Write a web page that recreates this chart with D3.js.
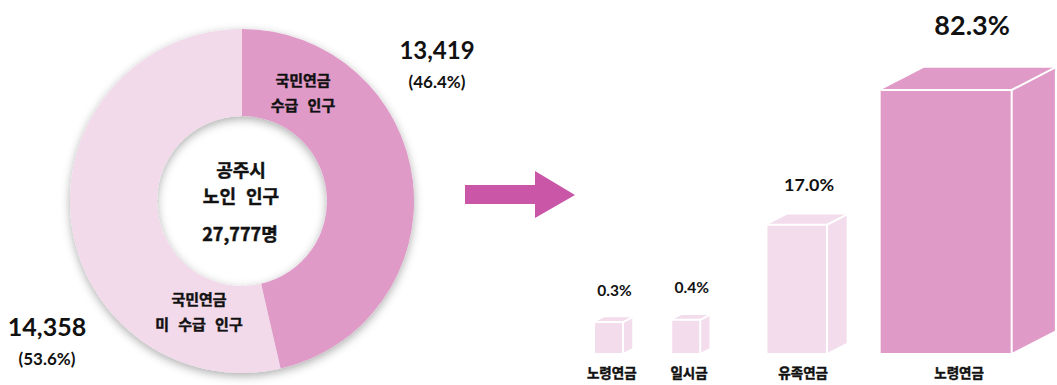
<!DOCTYPE html>
<html lang="ko">
<head>
<meta charset="utf-8">
<script src="https://cdn.jsdelivr.net/npm/d3@7/dist/d3.min.js"></script>
<style>
  html, body { margin: 0; padding: 0; background: #ffffff; }
  svg { display: block; }
  .kr { font-family: "Noto Sans CJK KR", "Noto Sans", sans-serif; font-weight: 700; fill: #111; stroke: #111; stroke-width: 0.45px; }
  .num { font-family: Lato, "Noto Sans", sans-serif; font-weight: 700; fill: #111; }
</style>
</head>
<body>
<svg id="chart" width="1057" height="385"></svg>
<script>
// Elderly population of Gongju split by pension receipt
const groupNames  = ["국민연금 수급 인구", "국민연금 미 수급 인구"];
const groupCounts = [13419, 14358];
const groupShares = [46.4, 53.6];
const totalLabel  = "27,777명";

// Pension types among recipients
const pensionTypes  = ["노령연금", "일시금", "유족연금", "노령연금"];
const pensionShares = [0.3, 0.4, 17.0, 82.3];

const svg = d3.select("#chart");
const fmt = d3.format(",");

// ---------- donut ----------
const defs = svg.append("defs");
const shadow = defs.append("filter").attr("id", "ringShadow")
  .attr("x", "-20%").attr("y", "-20%").attr("width", "140%").attr("height", "140%");
shadow.append("feDropShadow")
  .attr("dx", 0).attr("dy", 3).attr("stdDeviation", 5)
  .attr("flood-color", "#000").attr("flood-opacity", 0.32);

const cx = 242, cy = 201, rOuter = 172, rInner = 85;
const pie = d3.pie().sort(null).value(d => d);
const arc = d3.arc().innerRadius(rInner).outerRadius(rOuter);
const sliceColor = d3.scaleOrdinal().domain([0, 1]).range(["#e09ac8", "#f3daeb"]);

const donut = svg.append("g").attr("transform", `translate(${cx},${cy})`);
donut.append("g").attr("filter", "url(#ringShadow)")
  .selectAll("path").data(pie(groupShares)).join("path")
  .attr("d", arc)
  .attr("fill", (d, i) => sliceColor(i));

// labels inside the slices
const sliceText = [
  { lines: ["국민연금", "수급 인구"], dx: 61, dy: -115 },
  { lines: ["국민연금", "미 수급 인구"], dx: -43, dy: 104 }
];
sliceText.forEach(t => {
  const tx = donut.append("text").attr("class", "kr")
    .attr("text-anchor", "middle").style("font-size", "15px").style("word-spacing", "5px")
    .attr("x", t.dx).attr("y", t.dy);
  t.lines.forEach((l, j) => tx.append("tspan").attr("x", t.dx).attr("dy", j ? 25 : 0).text(l));
});

// centre title
const centre = donut.append("text").attr("class", "kr").attr("text-anchor", "middle")
  .style("font-size", "18px").style("word-spacing", "5px");
centre.append("tspan").attr("x", -1).attr("y", -24).text("공주시");
centre.append("tspan").attr("x", -1).attr("y", 2).text("노인 인구");
svg.append("text").attr("class", "kr").attr("text-anchor", "middle")
  .style("font-size", "18px").attr("x", cx - 2).attr("y", cy + 40).text(totalLabel);

// outer value labels
const outerLabels = [
  { x: 437, y: 59, size: 24 },
  { x: 47, y: 336, size: 25 }
];
outerLabels.forEach((p, i) => {
  svg.append("text").attr("class", "num").attr("text-anchor", "middle")
    .style("font-size", p.size + "px").attr("x", p.x).attr("y", p.y)
    .text(fmt(groupCounts[i]));
  svg.append("text").attr("class", "num").attr("text-anchor", "middle")
    .style("font-size", "17px").attr("x", p.x).attr("y", p.y + 29)
    .text(`(${groupShares[i].toFixed(1)}%)`);
});

// ---------- arrow ----------
svg.append("path")
  .attr("d", "M465,185 L535,185 L535,171 L575,195 L535,218 L535,204 L465,204 Z")
  .attr("fill", "#c956a6");

// ---------- 3D bars ----------
const maxShare = d3.max(pensionShares);
const baseY = 353;
const hScale = d3.scaleSqrt().domain([0, maxShare]).range([16, 263]);
const kScale = d3.scaleSqrt().domain([0, maxShare]).range([0, 1]);
const fsScale = d3.scaleLinear().domain([0, maxShare]).range([15.5, 27]);
const barColor = v => v === maxShare ? "#e09ac8" : "#f3dcec";

let xCursor = 595;
const gaps = [40, 58, 34];
const bars = pensionShares.map((v, i) => {
  const w = Math.max(28, 131 * kScale(v));
  const dx = 0.33 * w, dy = 0.17 * w;
  const b = { v, name: pensionTypes[i], x: xCursor, w, dx, dy, h: hScale(v) };
  xCursor += w + dx + (gaps[i] || 0);
  return b;
});

const barG = svg.append("g");
bars.forEach(b => {
  const top = baseY - b.h;
  const g = barG.append("g");
  const fill = barColor(b.v);
  // side face
  g.append("path")
    .attr("d", `M${b.x + b.w},${top} L${b.x + b.w + b.dx},${top - b.dy} L${b.x + b.w + b.dx},${baseY - b.dy} L${b.x + b.w},${baseY} Z`)
    .attr("fill", fill);
  // top face
  g.append("path")
    .attr("d", `M${b.x},${top} L${b.x + b.dx},${top - b.dy} L${b.x + b.w + b.dx},${top - b.dy} L${b.x + b.w},${top} Z`)
    .attr("fill", fill);
  // front face
  g.append("rect").attr("x", b.x).attr("y", top).attr("width", b.w).attr("height", b.h)
    .attr("fill", fill);
  // white edges
  g.append("path")
    .attr("d", `M${b.x},${top} L${b.x + b.w},${top} L${b.x + b.w},${baseY} M${b.x + b.w},${top} L${b.x + b.w + b.dx},${top - b.dy}`)
    .attr("fill", "none").attr("stroke", "#fff").attr("stroke-width", 2);

  const fs = fsScale(b.v);
  svg.append("text").attr("class", "num").attr("text-anchor", "middle")
    .style("font-size", fs.toFixed(1) + "px")
    .attr("x", b.x + b.w / 2 + b.dx * 0.6)
    .attr("y", top - b.dy - fs - 6)
    .text(b.v.toFixed(1) + "%");
  svg.append("text").attr("class", "kr").attr("text-anchor", "middle")
    .style("font-size", "13.5px")
    .attr("x", b.x + b.w / 2 + b.dx * 0.3)
    .attr("y", 378)
    .text(b.name);
});
</script>
</body>
</html>
